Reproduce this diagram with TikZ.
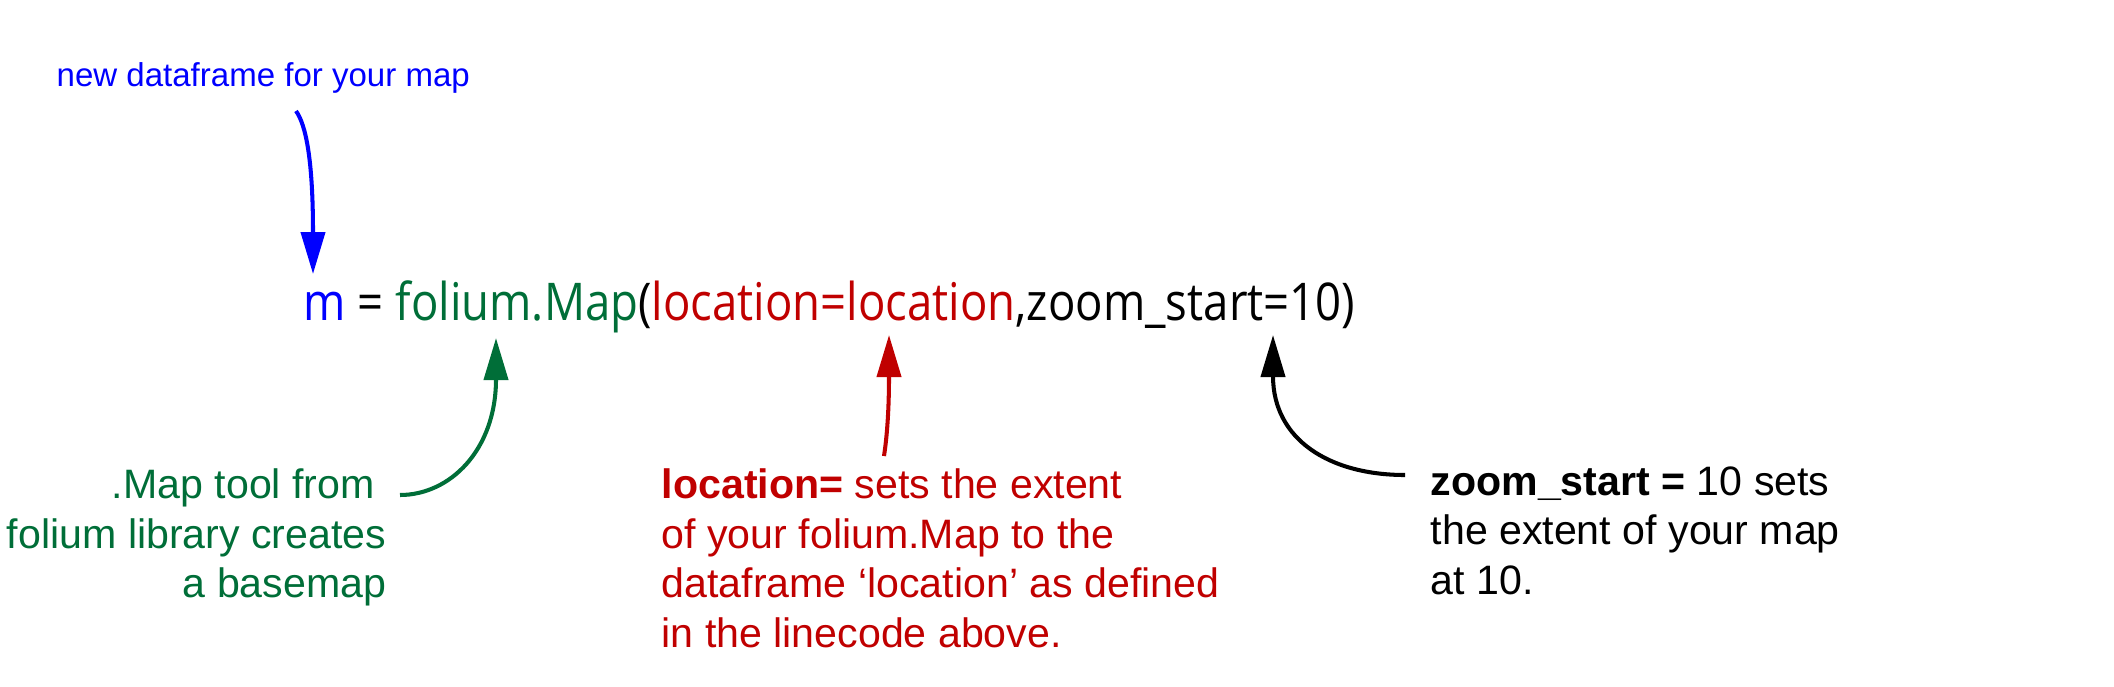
\documentclass[tikz,border=0pt]{standalone}
\usepackage{fontspec}
\setmainfont{Liberation Sans}
\newfontfamily\codefont[FakeStretch=0.875]{Open Sans}
\usetikzlibrary{arrows.meta}
\definecolor{mapblue}{RGB}{0,0,255}
\definecolor{mapgreen}{RGB}{0,110,56}
\definecolor{mapred}{RGB}{192,0,0}

\begin{document}
\begin{tikzpicture}[
	note/.style={inner sep=0pt, align=left, font=\fontsize{11.7pt}{14.1pt}\selectfont},
	pointer/.style={line width=1.15pt, -{Triangle[length=0.42cm,width=0.24cm]}}]
	\useasboundingbox (0,0) rectangle (21.14,6.86);
	% the code line
	\node[anchor=base west, inner sep=0pt, font=\codefont\fontsize{14.8pt}{18pt}\selectfont] (code) at (3.03,3.66)
		{\textcolor{mapblue}{m} = \textcolor{mapgreen}{folium.Map}(\textcolor{mapred}{location=location},zoom\_start=10)};
	% notes
	\node[anchor=base west, inner sep=0pt, text=mapblue, font=\fontsize{9.4pt}{11pt}\selectfont] (mnote) at (0.56,6.00) {new dataframe for your map};
	\node[note, anchor=north east, align=right, text=mapgreen] (mapnote) at (3.87,2.18)
		{.Map tool from\hspace*{0.28em}\\folium library creates\\a basemap};
	\node[note, anchor=north west, text=mapred] (locnote) at (6.61,2.18)
		{\textbf{location=} sets the extent\\of your folium.Map to the\\dataframe ‘location’ as defined\\in the linecode above.};
	\node[note, anchor=north west] (zoomnote) at (14.30,2.20)
		{\textbf{zoom\_start =} 10 sets\\the extent of your map\\at 10.};
	% pointers
	\coordinate (mfrom) at (2.96,5.75);
	\coordinate (mto) at (3.13,4.12);
	\coordinate (mapfrom) at (4.00,1.91);
	\coordinate (mapto) at (4.96,3.48);
	\coordinate (locfrom) at (8.84,2.30);
	\coordinate (locto) at (8.89,3.51);
	\coordinate (zoomfrom) at (14.05,2.11);
	\coordinate (zoomto) at (12.73,3.51);
	\draw[pointer, mapblue] (mfrom) .. controls (3.06,5.61) and (3.13,5.26) .. (mto);
	\draw[pointer, mapgreen] (mapfrom) .. controls (4.50,1.91) and (4.96,2.36) .. (mapto);
	\draw[pointer, mapred] (locfrom) .. controls (8.88,2.56) and (8.89,2.86) .. (locto);
	\draw[pointer] (zoomfrom) .. controls (13.30,2.11) and (12.73,2.46) .. (zoomto);
\end{tikzpicture}
\end{document}
